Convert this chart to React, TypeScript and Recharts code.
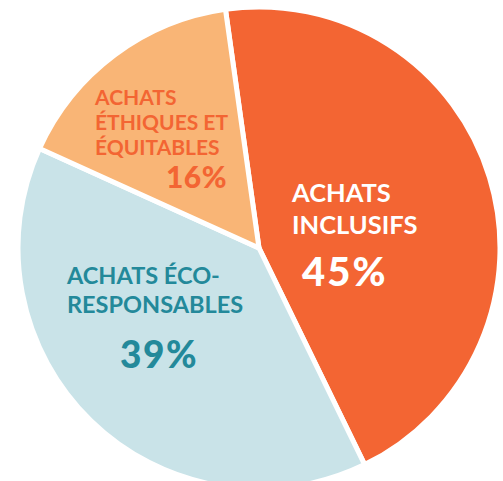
import { PieChart, Pie, Cell } from "recharts";

const categories = ["Achats inclusifs", "Achats éco-responsables", "Achats éthiques et équitables"];
const categoryLines = [
  ["ACHATS", "INCLUSIFS"],
  ["ACHATS ÉCO-", "RESPONSABLES"],
  ["ACHATS", "ÉTHIQUES ET", "ÉQUITABLES"],
];
const shares = [45, 39, 16];

const sliceColors = ["#F36533", "#C9E3E8", "#F9B576"];
const textColors = ["#FFFFFF", "#23899A", "#F36533"];

// label placement relative to the pie centre
const labelLayout = [
  { x: 33, y: -46, lineGap: 32, size: 25.5, pctX: 43, pctY: 38, pctSize: 40, pctSpacing: 2, pctAnchor: "start" },
  { x: -192, y: 36, lineGap: 29, size: 23.5, pctX: -139, pctY: 120, pctSize: 37, pctSpacing: 1.5, pctAnchor: "start" },
  { x: -164, y: -143, lineGap: 25, size: 21, pctX: -32, pctY: -60, pctSize: 30, pctSpacing: 0.5, pctAnchor: "end" },
];

const data = categories.map((name, i) => ({ name, value: shares[i] }));

const renderLabel = (props: any) => {
  const { cx, cy, index } = props;
  const l = labelLayout[index];
  return (
    <g>
      <text
        x={cx + l.x}
        y={cy + l.y}
        fill={textColors[index]}
        fontSize={l.size}
        fontWeight={700}
        fontFamily="Lato, sans-serif"
        textAnchor="start"
      >
        {categoryLines[index].map((line, k) => (
          <tspan key={k} x={cx + l.x} y={cy + l.y + k * l.lineGap}>
            {line}
          </tspan>
        ))}
      </text>
      <text
        x={cx + l.pctX}
        y={cy + l.pctY}
        fill={textColors[index]}
        fontSize={l.pctSize}
        fontWeight={900}
        letterSpacing={l.pctSpacing}
        fontFamily="Lato, sans-serif"
        textAnchor={l.pctAnchor}
      >
        {shares[index]}%
      </text>
    </g>
  );
};

export default function App() {
  return (
    <div style={{ background: "#fff", width: 503, height: 481 }}>
      <style>{"body{margin:0}"}</style>
      <PieChart width={503} height={481}>
        <Pie
          data={data}
          dataKey="value"
          nameKey="name"
          cx={254}
          cy={243}
          outerRadius={241}
          startAngle={98}
          endAngle={-262}
          stroke="#FFFFFF"
          strokeWidth={5}
          label={renderLabel}
          labelLine={false}
          isAnimationActive={false}
        >
          {data.map((d, i) => (
            <Cell key={d.name} fill={sliceColors[i]} />
          ))}
        </Pie>
      </PieChart>
    </div>
  );
}
